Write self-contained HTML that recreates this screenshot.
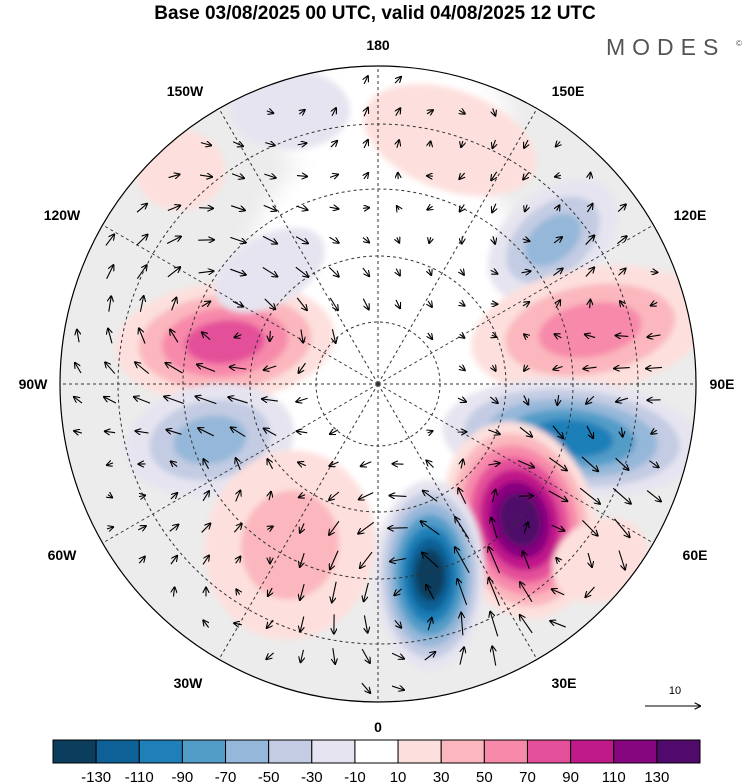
<!DOCTYPE html>
<html><head><meta charset="utf-8"><style>
body{margin:0;background:#fff;width:750px;height:783px;overflow:hidden;font-family:"Liberation Sans",sans-serif}
svg{position:absolute;left:0;top:0}
</style></head><body>
<svg width="750" height="783" id="chart">
<defs>
<clipPath id="disk"><circle cx="378" cy="384" r="318"/></clipPath>
<filter id="blur"><feGaussianBlur stdDeviation="3"/></filter>
<filter id="blur2"><feGaussianBlur stdDeviation="10"/></filter>
<marker id="ah" markerWidth="6" markerHeight="6" refX="5" refY="3" orient="auto"><path d="M0,0 L6,3 L0,6" fill="none" stroke="#000" stroke-width="1"/></marker>
</defs>
<text x="375" y="19" text-anchor="middle" font-size="19" font-weight="bold">Base 03/08/2025 00 UTC, valid 04/08/2025 12 UTC</text>
<text x="606" y="55" font-size="23" fill="#555" letter-spacing="7">MODES</text>
<text x="736" y="46" font-size="8" fill="#555">©</text>
<g clip-path="url(#disk)">
<circle cx="378" cy="384" r="318" fill="#ececec"/>
<ellipse cx="385" cy="330" rx="150" ry="200" fill="#fff" filter="url(#blur2)"/>
<ellipse cx="390" cy="120" rx="120" ry="70" fill="#fff" filter="url(#blur2)"/>
<g id="blobs" filter="url(#blur)"></g>
<g id="grid" fill="none" stroke="#333" stroke-width="1" stroke-dasharray="3,3"></g>
<g id="arrows" stroke="#000" stroke-width="1.1" fill="none"></g>
</g>
<circle cx="378" cy="384" r="318" fill="none" stroke="#000" stroke-width="1.2"/>
<g font-size="14" font-weight="bold" text-anchor="middle" id="lonlabels"></g>
<g>
<text x="675" y="694" font-size="11" text-anchor="middle">10</text>
<line x1="645" y1="706" x2="700" y2="706" stroke="#000" stroke-width="1.1" marker-end="url(#ah)"/>
</g>
<g id="colorbar"></g>
</svg>
<script>
const NS="http://www.w3.org/2000/svg";
// colorbar data
const cbColors=["#0b3d5c","#0e6196","#1f7fb8","#529cc8","#95b7d9","#c3cce3","#e6e4f0","#ffffff","#fde0dd","#fbb7bd","#f789aa","#e44f9a","#c0198a","#86067f","#4f0a6b"];
const cbLabels=["-130","-110","-90","-70","-50","-30","-10","10","30","50","70","90","110","130"];
// anomaly centers (x,y in px of map), radii, rotation, peak value
const blobX=[225,210,553,590,572,520,430,290,450,290,270,600,180];
const blobY=[342,440,240,330,438,520,575,545,140,110,270,560,170];
const blobRX=[110,85,75,120,130,75,55,85,90,60,60,50,45];
const blobRY=[60,55,48,62,58,100,95,95,50,40,35,40,40];
const blobRot=[-5,-10,-40,-10,5,-15,0,10,20,0,-30,-30,0];
const blobPeak=[80,-70,-60,70,-110,140,-140,35,25,-15,-25,20,15];
const lonLabels=["180","150E","120E","90E","60E","30E","0","30W","60W","90W","120W","150W"];
const lonLabelX=[378,568,690,722,695,564,378,188,62,33,62,185];
const lonLabelY=[50,96,220,389,560,688,732,688,560,389,220,96];
function colorFor(v){let i=Math.floor((v+150)/20);i=Math.max(0,Math.min(14,i));return cbColors[i];}
const cb=document.getElementById('colorbar');
const cx0=53,cw=647/15;
cbColors.forEach((c,i)=>{const r=document.createElementNS(NS,'rect');
r.setAttribute('x',cx0+i*cw);r.setAttribute('y',740);r.setAttribute('width',cw);r.setAttribute('height',23);
r.setAttribute('fill',c);r.setAttribute('stroke','#000');r.setAttribute('stroke-width','1');


cb.appendChild(r);});
cbLabels.forEach((l,i)=>{const t=document.createElementNS(NS,'text');
t.setAttribute('x',cx0+(i+1)*cw);t.setAttribute('y',782);t.setAttribute('text-anchor','middle');t.setAttribute('font-size','15');
t.textContent=l;


cb.appendChild(t);});
// blobs
const bg=document.getElementById('blobs');
blobPeak.forEach((p,i)=>{const n=Math.max(1,Math.ceil((Math.abs(p)-10)/20));
for(let k=0;k<n;k++){const lev=Math.sign(p)*(20+20*k);const f=1-k/n*0.85;
const e=document.createElementNS(NS,'ellipse');
e.setAttribute('cx',blobX[i]);e.setAttribute('cy',blobY[i]);e.setAttribute('rx',blobRX[i]*f);e.setAttribute('ry',blobRY[i]*f);
e.setAttribute('transform',`rotate(${blobRot[i]} ${blobX[i]} ${blobY[i]})`);e.setAttribute('fill',colorFor(lev));


bg.appendChild(e);}});
// grid
const gr=document.getElementById('grid');
[62,128,195,260].forEach(r=>{const c=document.createElementNS(NS,'circle');c.setAttribute('cx',378);c.setAttribute('cy',384);c.setAttribute('r',r);


gr.appendChild(c);});
const lg=document.getElementById('lonlabels');
for(let i=0;i<12;i++){const a=(i*30-90)*Math.PI/180;
const l=document.createElementNS(NS,'line');l.setAttribute('x1',378);l.setAttribute('y1',384);
l.setAttribute('x2',378+318*Math.cos(a));l.setAttribute('y2',384+318*Math.sin(a));


gr.appendChild(l);
const t=document.createElementNS(NS,'text');
t.setAttribute('x',lonLabelX[i]);t.setAttribute('y',lonLabelY[i]);t.textContent=lonLabels[i];


lg.appendChild(t);}
// wind arrows from circulation around anomalies
const ag=document.getElementById('arrows');
for(let y=80;y<700;y+=32)for(let x=70;x<700;x+=32){
const xx=x+((y/32)%2?8:0);const d=Math.hypot(xx-378,y-384);if(d>305||d<55)continue;
let u=0,v=0;blobPeak.forEach((p,i)=>{const dx=xx-blobX[i],dy=y-blobY[i];const r2=(dx*dx+dy*dy)/(blobRX[i]*blobRY[i]);
const w=p/60*Math.exp(-r2/2.5);u+=-dy*w*0.06;v+=dx*w*0.06;});
const m=Math.hypot(u,v);let L=Math.min(30,4+m*3.5);if(m<0.01){u=1;v=0;}
const nx=u/Math.hypot(u,v),ny=v/Math.hypot(u,v);
const l=document.createElementNS(NS,'line');
l.setAttribute('x1',xx-nx*L/2);l.setAttribute('y1',y-ny*L/2);l.setAttribute('x2',xx+nx*L/2);l.setAttribute('y2',y+ny*L/2);
l.setAttribute('marker-end','url(#ah)');


ag.appendChild(l);}
</script>
</body></html>
